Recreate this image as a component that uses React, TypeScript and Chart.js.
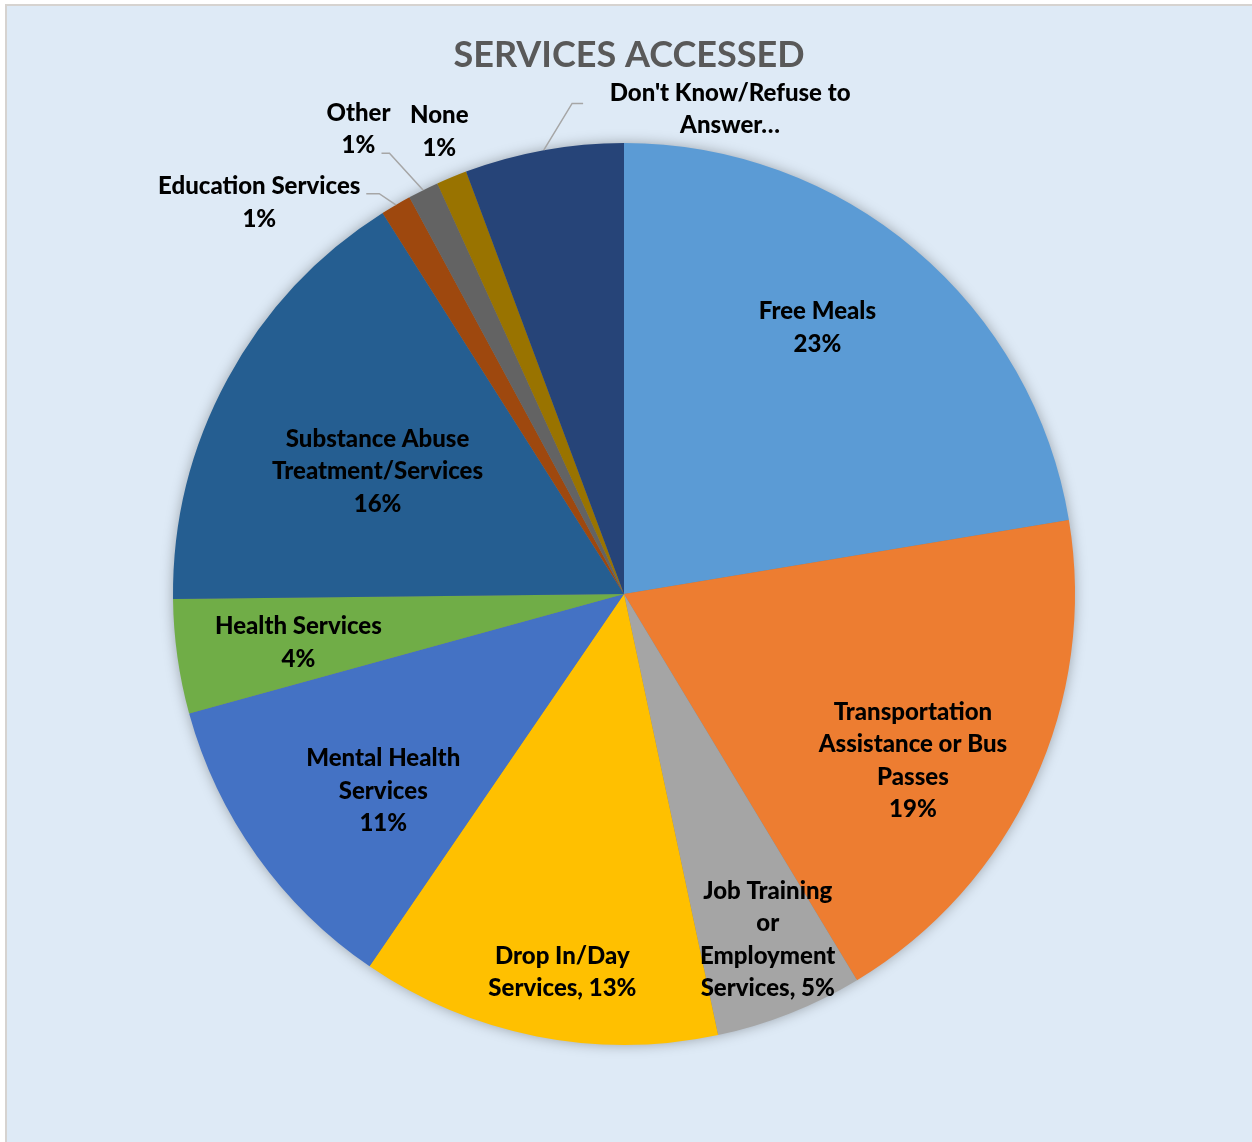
import { useEffect, useRef } from "react";
import { Chart, registerables } from "chart.js";

Chart.register(...registerables);

// ---- data ----
const categories = [
  "Free Meals",
  "Transportation Assistance or Bus Passes",
  "Job Training or Employment Services",
  "Drop In/Day Services",
  "Mental Health Services",
  "Health Services",
  "Substance Abuse Treatment/Services",
  "Education Services",
  "Other",
  "None",
  "Don't Know/Refuse to Answer",
];
const shares = [22.4, 19.0, 5.3, 12.9, 11.2, 4.1, 16.2, 1.1, 1.1, 1.1, 5.7];
const labelLines = [
  ["Free Meals", "23%"],
  ["Transportation", "Assistance or Bus", "Passes", "19%"],
  ["Job Training", "or", "Employment", "Services, 5%"],
  ["Drop In/Day", "Services, 13%"],
  ["Mental Health", "Services", "11%"],
  ["Health Services", "4%"],
  ["Substance Abuse", "Treatment/Services", "16%"],
  ["Education Services", "1%"],
  ["Other", "1%"],
  ["None", "1%"],
  ["Don't Know/Refuse to", "Answer…"],
];
const sliceColors = [
  "#5B9BD5",
  "#ED7D31",
  "#A5A5A5",
  "#FFC000",
  "#4472C4",
  "#70AD47",
  "#255E91",
  "#9E480E",
  "#636363",
  "#997300",
  "#264478",
];
const chartTitle = "SERVICES ACCESSED";

// ---- label placement (polar, relative to each slice's mid angle) ----
type Placement = {
  r: number; // fraction of radius
  da: number; // degrees offset from mid angle (clockwise)
  leader?: { hx: number; hy: number; ex: number; ey: number }; // offsets from text centre
};
const placements: Placement[] = [
  { r: 0.73, da: -4.3 },
  { r: 0.74, da: 5.3 },
  { r: 0.83, da: -1.0 },
  { r: 0.85, da: -1.9 },
  { r: 0.69, da: -3.8 },
  { r: 0.73, da: -0.5 },
  { r: 0.61, da: -2.1 },
  { r: 1.186, da: -12.6, leader: { hx: 107, hy: -9, ex: 120, ey: -9 } },
  { r: 1.187, da: -3.3, leader: { hx: 23, hy: 24, ex: 31, ey: 24 } },
  { r: 1.104, da: 0.7 },
  { r: 1.1, da: 22.6, leader: { hx: -147, hy: -6, ex: -158, ey: -6 } },
];

const FONT = "Lato, 'Open Sans', sans-serif";
const LABEL_FONT = `900 24px ${FONT}`;
const LINE_H = 32.5;

const backgroundPlugin = {
  id: "bgPanel",
  beforeDraw(chart: any) {
    const { ctx, width, height } = chart;
    ctx.save();
    ctx.fillStyle = "#ffffff";
    ctx.fillRect(0, 0, width, height);
    ctx.fillStyle = "#DEEAF6";
    ctx.fillRect(6, 5, width - 6, height - 5);
    ctx.strokeStyle = "#D6D3D0";
    ctx.lineWidth = 2;
    ctx.beginPath();
    ctx.moveTo(6, height);
    ctx.lineTo(6, 5);
    ctx.lineTo(width, 5);
    ctx.stroke();
    // title
    ctx.fillStyle = "#595959";
    ctx.font = `bold 36px ${FONT}`;
    ctx.textAlign = "center";
    ctx.textBaseline = "alphabetic";
    ctx.fillText(chartTitle, 629, 67);
    ctx.restore();
  },
};

const shadowPlugin = {
  id: "pieShadow",
  beforeDatasetsDraw(chart: any) {
    const arc = chart.getDatasetMeta(0).data[0];
    if (!arc) return;
    const { x, y, outerRadius } = arc.getProps(["x", "y", "outerRadius"], true);
    const ctx = chart.ctx;
    ctx.save();
    ctx.shadowColor = "rgba(0,0,0,0.35)";
    ctx.shadowBlur = 14;
    ctx.beginPath();
    ctx.arc(x, y, outerRadius - 1, 0, Math.PI * 2);
    ctx.fillStyle = "#7f7f7f";
    ctx.fill();
    ctx.restore();
  },
};

const labelPlugin = {
  id: "sliceLabels",
  afterDatasetsDraw(chart: any) {
    const ctx = chart.ctx;
    const meta = chart.getDatasetMeta(0);
    ctx.save();
    ctx.font = LABEL_FONT;
    ctx.textAlign = "center";
    ctx.textBaseline = "middle";
    meta.data.forEach((arc: any, i: number) => {
      const { x, y, startAngle, endAngle, outerRadius } = arc.getProps(
        ["x", "y", "startAngle", "endAngle", "outerRadius"],
        true
      );
      const p = placements[i];
      const lines = labelLines[i];
      const mid = (startAngle + endAngle) / 2;
      const a = mid + (p.da * Math.PI) / 180;
      const cx = x + Math.cos(a) * outerRadius * p.r;
      const cy = y + Math.sin(a) * outerRadius * p.r;
      if (p.leader) {
        const px = x + Math.cos(mid) * outerRadius;
        const py = y + Math.sin(mid) * outerRadius;
        ctx.strokeStyle = "#A6A6A6";
        ctx.lineWidth = 1.5;
        ctx.beginPath();
        ctx.moveTo(cx + p.leader.hx, cy + p.leader.hy);
        ctx.lineTo(cx + p.leader.ex, cy + p.leader.ey);
        ctx.lineTo(px, py);
        ctx.stroke();
      }
      ctx.fillStyle = "#000000";
      const top = cy - ((lines.length - 1) * LINE_H) / 2;
      lines.forEach((ln, k) => {
        ctx.fillText(ln, cx, top + k * LINE_H);
      });
    });
    ctx.restore();
  },
};

export default function App() {
  const canvasRef = useRef<HTMLCanvasElement | null>(null);

  useEffect(() => {
    if (!canvasRef.current) return;
    const chart = new Chart(canvasRef.current, {
      type: "pie",
      data: {
        labels: categories,
        datasets: [
          {
            data: shares,
            backgroundColor: sliceColors,
            borderWidth: 0,
          },
        ],
      },
      options: {
        animation: false,
        responsive: false,
        devicePixelRatio: 1,
        layout: { padding: { left: 173, right: 177, top: 143, bottom: 97 } },
        plugins: {
          legend: { display: false },
          tooltip: { enabled: false },
          title: { display: false },
        },
      },
      plugins: [backgroundPlugin, shadowPlugin, labelPlugin],
    });
    if ((document as any).fonts) {
      Promise.all([
        (document as any).fonts.load(LABEL_FONT),
        (document as any).fonts.load(`bold 36px Lato`),
      ])
        .then(() => chart.draw())
        .catch(() => {});
    }
    return () => chart.destroy();
  }, []);

  return (
    <div style={{ position: "absolute", left: 0, top: 0, width: 1252, height: 1142 }}>
      <canvas ref={canvasRef} width={1252} height={1142} />
    </div>
  );
}
